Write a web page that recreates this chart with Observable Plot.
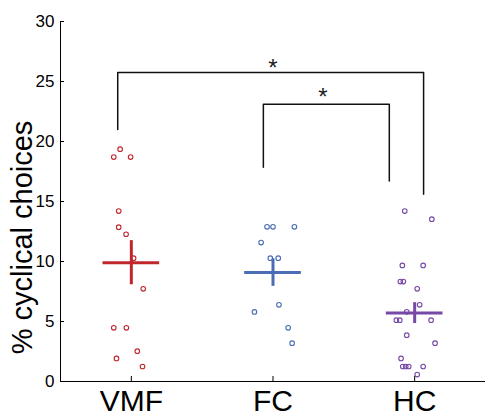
<!DOCTYPE html>
<html><head><meta charset="utf-8">
<script src="https://cdn.jsdelivr.net/npm/d3@7"></script>
<script src="https://cdn.jsdelivr.net/npm/@observablehq/plot@0.6"></script>
<style>
body{margin:0;background:#fff;}
</style>
</head><body><div id="chart"></div>
<script>
// ---- data ----
const groups = ["VMF", "FC", "HC"];
const vmfValues = [19.36, 18.7, 18.7, 14.2, 12.86, 12.27, 10.28, 7.72, 4.47, 4.47, 2.53, 1.92, 1.25];
const vmfJitter = [-0.079, -0.124, -0.005, -0.089, -0.089, -0.037, 0.016, 0.084, -0.124, -0.035, 0.042, -0.105, 0.079];
const fcValues = [12.89, 12.89, 12.89, 11.58, 10.28, 10.28, 6.39, 5.8, 4.47, 3.19];
const fcJitter = [-0.042, 0.0, 0.151, -0.084, -0.019, 0.037, 0.042, -0.131, 0.107, 0.135];
const hcValues = [14.2, 13.53, 9.67, 9.67, 8.33, 8.33, 7.72, 6.39, 5.81, 5.11, 5.11, 5.11, 3.86, 3.19, 1.92, 1.25, 1.25, 1.25, 1.25, 0.58];
const hcJitter = [-0.070, 0.121, -0.087, 0.060, -0.101, -0.080, 0.018, 0.035, -0.056, -0.129, -0.105, 0.116, -0.056, 0.144, -0.096, -0.084, -0.063, -0.042, 0.060, 0.018];
const means = [9.9, 9.08, 5.7];
const sems = [1.84, 1.15, 0.87];
const yTicks = [0, 5, 10, 15, 20, 25, 30];
const yLabel = "% cyclical choices";
// significance brackets (x in category units, y in %)
const bracketLeft = [0.904, 1.932];
const bracketRight = [3.063, 2.821];
const bracketTop = [25.75, 23.1];
const bracketLeftEnd = [21.0, 17.85];
const bracketRightEnd = [15.6, 16.7];
const starX = [2.0, 2.352];
const starY = [26.47, 24.03];
const starLabel = ["*", "*"];

// ---- styles ----
const colors = ["#c0272d", "#4a6db5", "#7649a6"];
const font = "'Liberation Sans', Arial, Helvetica, sans-serif";

// ---- tables ----
const valueSets = [vmfValues, fcValues, hcValues];
const jitterSets = [vmfJitter, fcJitter, hcJitter];
const points = [];
valueSets.forEach((vals, g) => vals.forEach((v, i) => points.push({group: groups[g], pos: g + 1 + jitterSets[g][i], value: v})));
const summary = groups.map((g, i) => ({group: g, pos: i + 1, mean: means[i], lo: means[i] - sems[i], hi: means[i] + sems[i]}));
const bracketPts = [];
bracketLeft.forEach((l, i) => {
  bracketPts.push({b: i, x: l, y: bracketLeftEnd[i]});
  bracketPts.push({b: i, x: l, y: bracketTop[i]});
  bracketPts.push({b: i, x: bracketRight[i], y: bracketTop[i]});
  bracketPts.push({b: i, x: bracketRight[i], y: bracketRightEnd[i]});
});
const stars = starX.map((x, i) => ({x, y: starY[i], t: starLabel[i]}));

const half = 0.2;
const chart = Plot.plot({
  width: 485, height: 418,
  marginLeft: 60, marginRight: 0, marginTop: 21, marginBottom: 37,
  style: {fontFamily: font, background: "white", color: "black", overflow: "visible"},
  x: {domain: [0.5, 3.5], axis: null},
  y: {domain: [0, 30], axis: null},
  color: {domain: groups, range: colors},
  marks: [
    Plot.axisY({ticks: yTicks, tickSize: -4, tickPadding: 10, fontSize: 17, label: null, tickFormat: d => String(d), stroke: "black"}),
    Plot.axisX({ticks: [1, 2, 3], tickSize: -5, tickPadding: 13, fontSize: 30, label: null, tickFormat: d => groups[d - 1], stroke: "black"}),
    Plot.ruleX([0.5], {y1: 0, y2: 30, stroke: "black", strokeWidth: 1}),
    Plot.ruleY([0], {stroke: "black", strokeWidth: 1}),
    Plot.text([yLabel], {frameAnchor: "left", rotate: -90, dx: -38, dy: 36, fontSize: 29, textAnchor: "middle", lineAnchor: "middle", fill: "black"}),
    Plot.dot(points, {x: "pos", y: "value", stroke: "group", r: 2.3, strokeWidth: 1.1, fill: "none"}),
    Plot.ruleY(summary, {y: "mean", x1: d => d.pos - half, x2: d => d.pos + half, stroke: "group", strokeWidth: 3}),
    Plot.ruleX(summary, {x: "pos", y1: "lo", y2: "hi", stroke: "group", strokeWidth: 3}),
    Plot.line(bracketPts, {x: "x", y: "y", z: "b", stroke: "#111", strokeWidth: 1.5, curve: "linear"}),
    Plot.text(stars, {x: "x", y: "y", text: "t", fontSize: 24, dy: 4, fill: "#222"})
  ]
});
document.getElementById("chart").appendChild(chart);
</script>
</body></html>
